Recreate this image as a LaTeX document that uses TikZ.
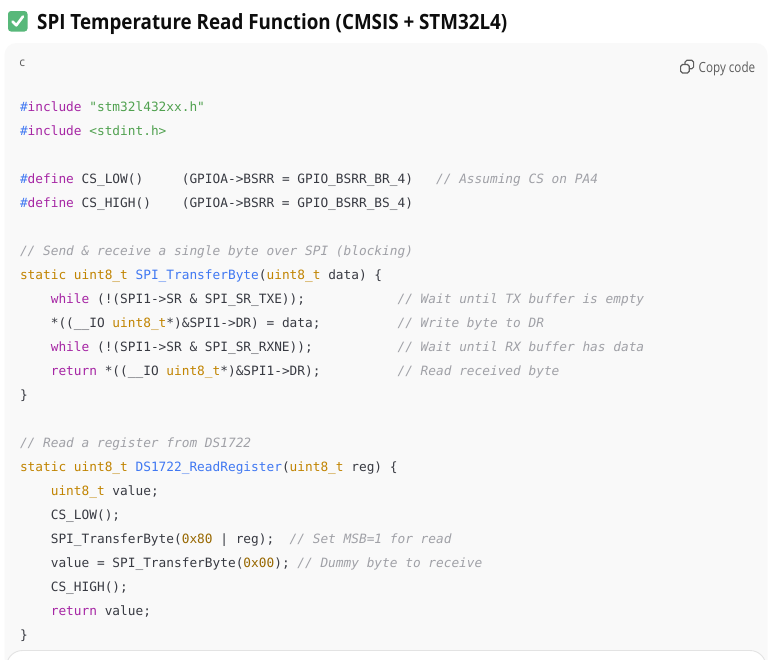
\documentclass[tikz,border=0pt]{standalone}
\usepackage{fontspec}
\setmainfont{Open Sans}
\newfontfamily\codefont{DejaVu Sans Mono}
\newfontfamily\uifont{Open Sans}
\definecolor{pagebg}{RGB}{255,255,255}
\definecolor{boxbg}{RGB}{249,249,249}
\definecolor{boxline}{RGB}{227,227,227}
\definecolor{deftext}{RGB}{56,58,66}
\definecolor{kwcol}{RGB}{166,38,164}
\definecolor{metacol}{RGB}{64,120,242}
\definecolor{tycol}{RGB}{193,132,1}
\definecolor{fncol}{RGB}{64,120,242}
\definecolor{strcol}{RGB}{80,161,79}
\definecolor{numcol}{RGB}{152,104,1}
\definecolor{cmcol}{RGB}{160,161,167}
\definecolor{uigray}{RGB}{93,93,93}
\definecolor{titlecol}{RGB}{13,13,13}
\definecolor{checkgreen}{RGB}{88,184,122}
\newcommand\hlkw[1]{\textcolor{kwcol}{#1}}
\newcommand\hlmeta[1]{\textcolor{metacol}{#1}}
\newcommand\hlty[1]{\textcolor{tycol}{#1}}
\newcommand\hlfn[1]{\textcolor{fncol}{#1}}
\newcommand\hlstr[1]{\textcolor{strcol}{#1}}
\newcommand\hlnum[1]{\textcolor{numcol}{#1}}
\newcommand\hlcm[1]{\textcolor{cmcol}{\itshape #1}}
\begin{document}
\begin{tikzpicture}[x=1pt,y=-1pt,
  codeline/.style={anchor=base west,inner sep=0pt,outer sep=0pt,text=deftext,
    font=\codefont\fontsize{12.8pt}{14pt}\selectfont},
  uitext/.style={anchor=base west,inner sep=0pt,outer sep=0pt,text=uigray}]
\useasboundingbox (0,0) rectangle (768,659);
\fill[pagebg] (0,0) rectangle (768,659);
% code box
\fill[boxbg,rounded corners=12pt] (4.5,43) rectangle (767.5,700);
% bottom inner panel
\filldraw[fill=white,draw=boxline,line width=0.9pt,rounded corners=16pt] (6.5,650.5) rectangle (766,720);
% title emoji
\fill[checkgreen,rounded corners=3pt] (8,11) rectangle (27.5,31.5);
\draw[white,line width=2.6pt,line cap=round,line join=round] (12.5,21.5) -- (16.3,25.3) -- (23,16.5);
\node[anchor=base west,inner sep=0pt,text=titlecol,font=\uifont\bfseries\fontsize{21pt}{24pt}\selectfont] (title) at (37,29.5)
  {\resizebox{470pt}{\height}{SPI Temperature Read Function (CMSIS + STM32L4)}};
% language label
\node[uitext,font=\uifont\fontsize{12pt}{14pt}\selectfont] (lang) at (19.5,66) {c};
% copy icon
\draw[uigray,line width=1.2pt,rounded corners=1.8pt] (680.6,64.5) rectangle (689.2,73);
\draw[uigray,line width=1.2pt,rounded corners=1.8pt] (685,64.5) -- (685,60.3) -- (693.6,60.3) -- (693.6,68.8) -- (689.2,68.8);
\node[uitext,font=\uifont\fontsize{14pt}{16pt}\selectfont] (copy) at (698.7,72.3)
  {\resizebox{56.5pt}{\height}{Copy code}};
% code lines
\node[codeline] (l0) at (20,111) {\hlmeta{\#}\hlkw{include}~\hlstr{"stm32l432xx.h"}};
\node[codeline] (l1) at (20,135) {\hlmeta{\#}\hlkw{include}~\hlstr{<stdint.h>}};
\node[codeline] (l3) at (20,183) {\hlmeta{\#}\hlkw{define}~CS\_LOW()~~~~~(GPIOA->BSRR~=~GPIO\_BSRR\_BR\_4)~~~\hlcm{//~Assuming~CS~on~PA4}};
\node[codeline] (l4) at (20,207) {\hlmeta{\#}\hlkw{define}~CS\_HIGH()~~~~(GPIOA->BSRR~=~GPIO\_BSRR\_BS\_4)};
\node[codeline] (l6) at (20,255) {\hlcm{//~Send~\&~receive~a~single~byte~over~SPI~(blocking)}};
\node[codeline] (l7) at (20,279) {\hlty{static}~\hlty{uint8\_t}~\hlfn{SPI\_TransferByte}(\hlty{uint8\_t}~data)~\{};
\node[codeline] (l8) at (20,303) {~~~~\hlkw{while}~(!(SPI1->SR~\&~SPI\_SR\_TXE));~~~~~~~~~~~~\hlcm{//~Wait~until~TX~buffer~is~empty}};
\node[codeline] (l9) at (20,327) {~~~~*((\_\_IO~\hlty{uint8\_t}*)\&SPI1->DR)~=~data;~~~~~~~~~~\hlcm{//~Write~byte~to~DR}};
\node[codeline] (l10) at (20,351) {~~~~\hlkw{while}~(!(SPI1->SR~\&~SPI\_SR\_RXNE));~~~~~~~~~~~\hlcm{//~Wait~until~RX~buffer~has~data}};
\node[codeline] (l11) at (20,375) {~~~~\hlkw{return}~*((\_\_IO~\hlty{uint8\_t}*)\&SPI1->DR);~~~~~~~~~~\hlcm{//~Read~received~byte}};
\node[codeline] (l12) at (20,399) {\}};
\node[codeline] (l14) at (20,447) {\hlcm{//~Read~a~register~from~DS1722}};
\node[codeline] (l15) at (20,471) {\hlty{static}~\hlty{uint8\_t}~\hlfn{DS1722\_ReadRegister}(\hlty{uint8\_t}~reg)~\{};
\node[codeline] (l16) at (20,495) {~~~~\hlty{uint8\_t}~value;};
\node[codeline] (l17) at (20,519) {~~~~CS\_LOW();};
\node[codeline] (l18) at (20,543) {~~~~SPI\_TransferByte(\hlnum{0x80}~|~reg);~~\hlcm{//~Set~MSB=1~for~read}};
\node[codeline] (l19) at (20,567) {~~~~value~=~SPI\_TransferByte(\hlnum{0x00});~\hlcm{//~Dummy~byte~to~receive}};
\node[codeline] (l20) at (20,591) {~~~~CS\_HIGH();};
\node[codeline] (l21) at (20,615) {~~~~\hlkw{return}~value;};
\node[codeline] (l22) at (20,639) {\}};
\end{tikzpicture}
\end{document}
